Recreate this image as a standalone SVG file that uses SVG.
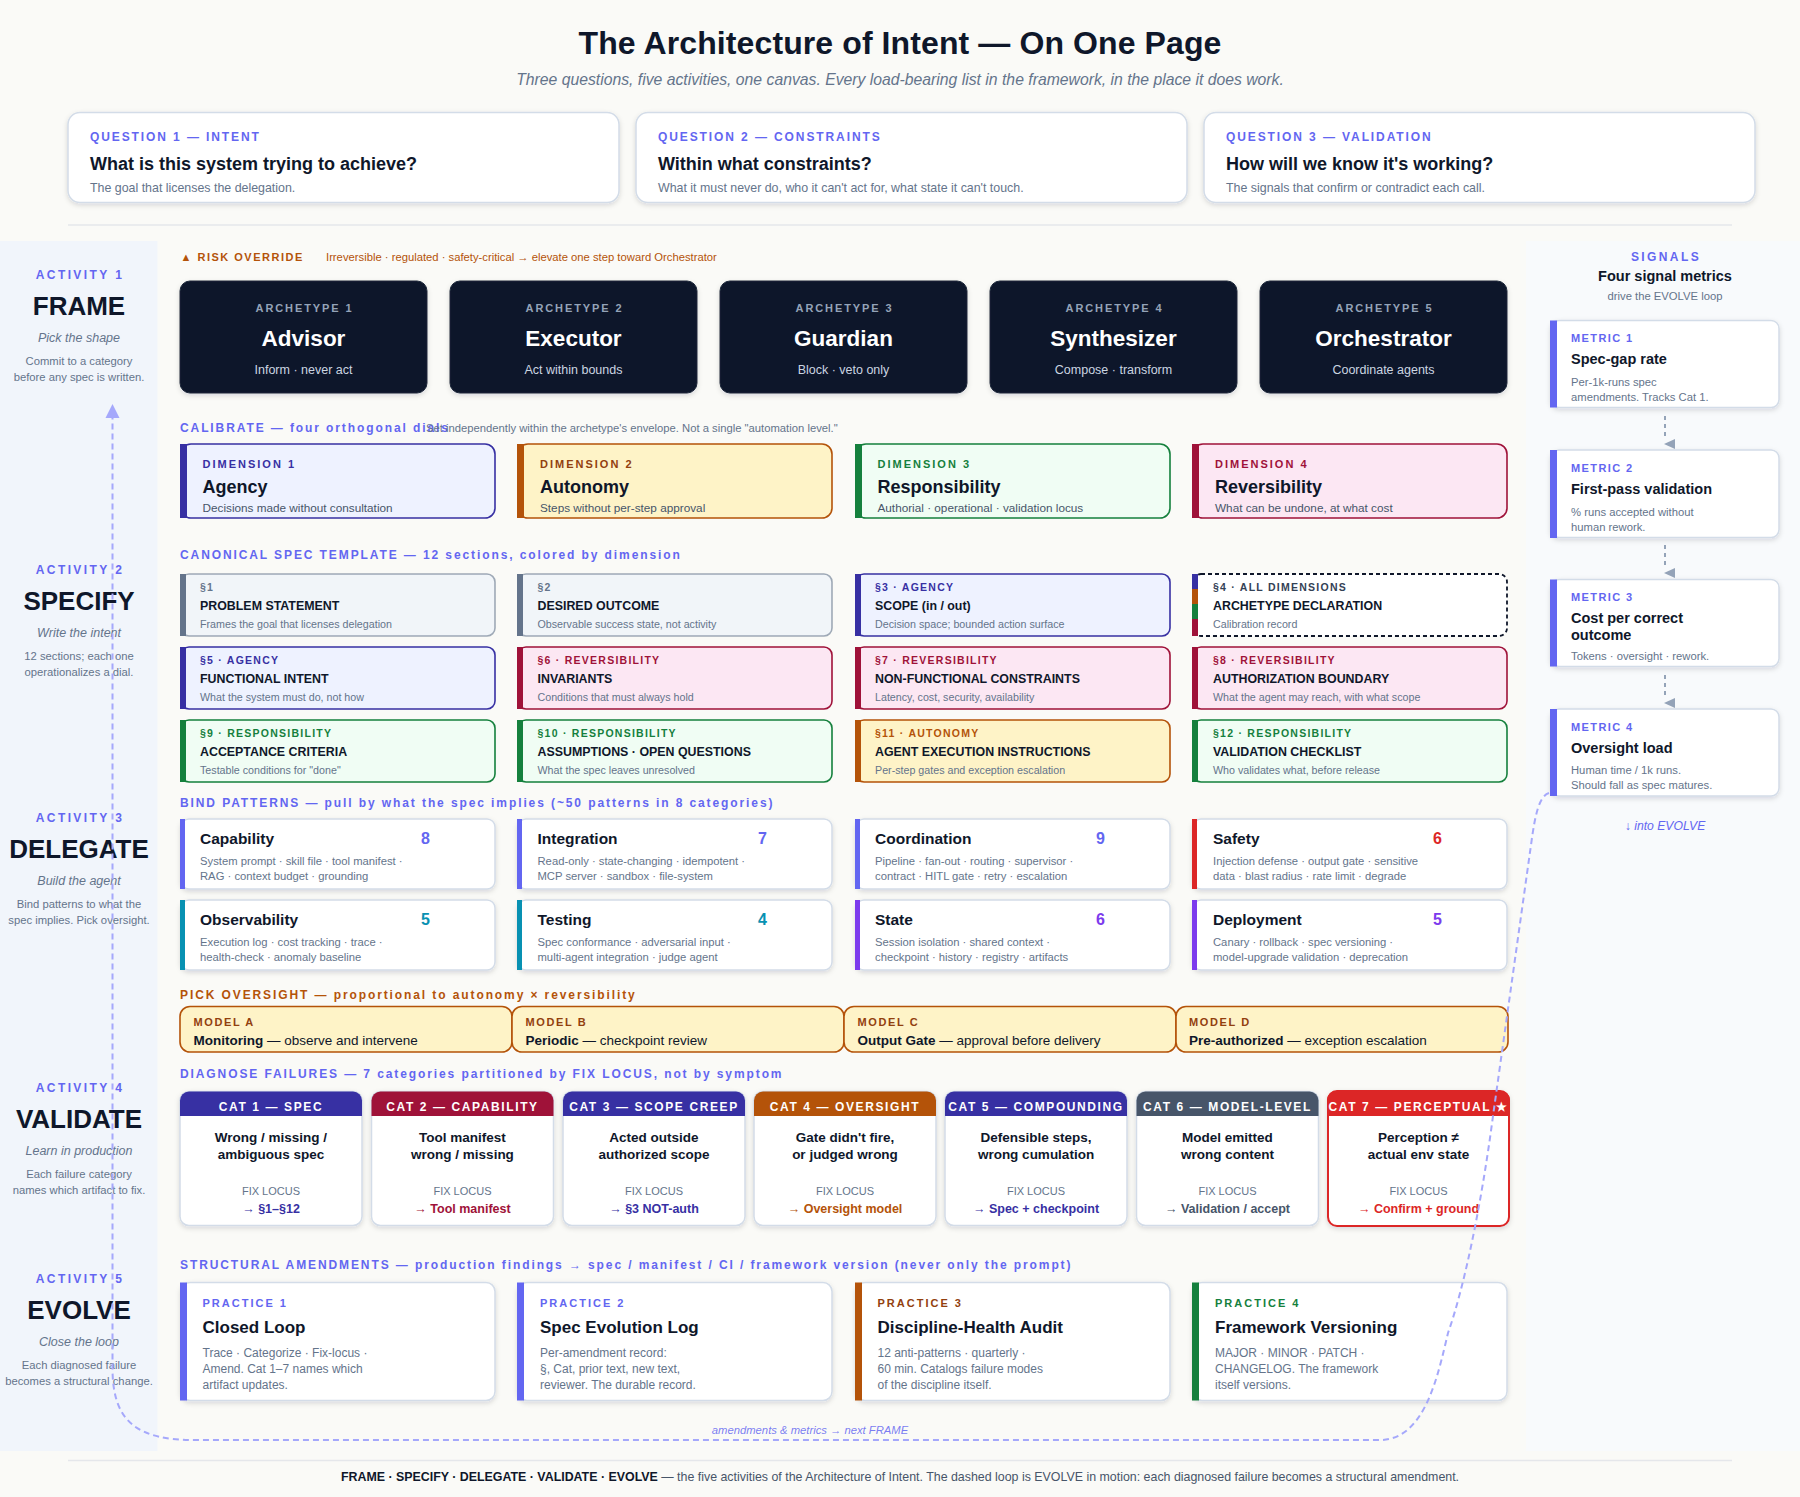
<svg xmlns="http://www.w3.org/2000/svg" width="1800" height="1497" viewBox="0 0 1800 1497">
<defs>
<filter id="sh" x="-10%" y="-15%" width="120%" height="135%"><feDropShadow dx="0" dy="2" stdDeviation="2.5" flood-color="#0f172a" flood-opacity="0.14"/></filter>
</defs>
<style>
text{font-family:"Liberation Sans",Arial,sans-serif}
.c{text-anchor:middle}
.card{fill:#fff;stroke:#d3dce8;stroke-width:1.5;filter:url(#sh)}
.dark{fill:#0f172a;stroke:#1e293b;stroke-width:1;filter:url(#sh)}
.ind{fill:#6366f1}
.ink{fill:#0f172a}
.gray{fill:#64748b}
.ag{fill:#3730a3}.au{fill:#b45309}.re{fill:#15803d}.rv{fill:#9f1239}.sl{fill:#64748b}
.tag{font-size:12px;font-weight:700;letter-spacing:1.9px}
.qh{font-size:18px;font-weight:700;fill:#0f172a}
.qs{font-size:12.4px;fill:#64748b}
.al{font-size:12px;font-weight:700;letter-spacing:2.4px;fill:#6366f1}
.an{font-size:26px;font-weight:700;fill:#0f172a}
.ai{font-size:12.5px;font-style:italic;fill:#64748b}
.ad{font-size:11.25px;fill:#64748b}
.sec{font-size:12px;font-weight:700;letter-spacing:1.9px;fill:#6366f1}
.a1{font-size:11px;font-weight:700;letter-spacing:1.9px;fill:#94a3b8}
.a2{font-size:22.5px;font-weight:700;fill:#fff}
.a3{font-size:12.5px;fill:#cbd5e1}
.dt{font-size:11px;font-weight:700;letter-spacing:2px}
.dh{font-size:18px;font-weight:700;fill:#0f172a}
.dd{font-size:11.75px;fill:#475569}
.st{font-size:10.5px;font-weight:700;letter-spacing:1.25px}
.sh{font-size:12.4px;font-weight:700;fill:#0f172a}
.sd{font-size:10.7px;fill:#64748b}
.bh{font-size:15.5px;font-weight:700;fill:#0f172a}
.bn{font-size:16px;font-weight:700}
.bd{font-size:11.25px;fill:#64748b}
.mt{font-size:11px;font-weight:700;letter-spacing:1.6px;fill:#92400e}
.mb{font-size:13.5px;fill:#0f172a}
.ch{font-size:12px;font-weight:700;letter-spacing:1.6px;fill:#fff}
.cb{font-size:13.5px;font-weight:700;fill:#0f172a}
.cf{font-size:11px;fill:#64748b}
.cv{font-size:12.5px;font-weight:700}
.pt{font-size:11px;font-weight:700;letter-spacing:2px}
.ph{font-size:17px;font-weight:700;fill:#0f172a}
.pd{font-size:12px;fill:#64748b}
.mh{font-size:14.5px;font-weight:700;fill:#0f172a}
.md{font-size:11.25px;fill:#64748b}
.mm{font-size:11px;font-weight:700;letter-spacing:1.4px;fill:#6366f1}
.s0{fill:#f1f5f9;stroke:#64748b}.s1{fill:#eef2ff;stroke:#3730a3}.s2{fill:#fef3c7;stroke:#b45309}.s3{fill:#f0fdf4;stroke:#15803d}.s4{fill:#fce7f3;stroke:#9f1239}
.b{stroke-width:1.6}
</style>
<rect width="1800" height="1497" fill="#fafaf7"/>
<rect x="0" y="241" width="157.500" height="1210" fill="#f1f5fb"/>
<rect x="1526" y="241" width="274" height="1210" fill="#f8fafc"/>
<g id="header">
<text class="c" x="900" y="54" font-size="32" font-weight="700" fill="#0f172a" letter-spacing=".1">The Architecture of Intent — On One Page</text>
<text class="c" x="900" y="85" font-size="15.750" font-style="italic" fill="#64748b">Three questions, five activities, one canvas. Every load-bearing list in the framework, in the place it does work.</text>
</g>
<g id="q1"><rect class="card" x="68" y="112.500" width="551" height="90" rx="12"/><text class="tag ind" x="90" y="141">QUESTION 1 — INTENT</text><text class="qh" x="90" y="170">What is this system trying to achieve?</text><text class="qs" x="90" y="192">The goal that licenses the delegation.</text></g>
<g id="q2"><rect class="card" x="636" y="112.500" width="551" height="90" rx="12"/><text class="tag ind" x="658" y="141">QUESTION 2 — CONSTRAINTS</text><text class="qh" x="658" y="170">Within what constraints?</text><text class="qs" x="658" y="192">What it must never do, who it can't act for, what state it can't touch.</text></g>
<g id="q3"><rect class="card" x="1204" y="112.500" width="551" height="90" rx="12"/><text class="tag ind" x="1226" y="141">QUESTION 3 — VALIDATION</text><text class="qh" x="1226" y="170">How will we know it's working?</text><text class="qs" x="1226" y="192">The signals that confirm or contradict each call.</text></g>
<line x1="68" y1="225" x2="1732" y2="225" stroke="#e5e7eb" stroke-width="1.5"/>

<g id="activity-1"><text class="al c" x="80" y="279">ACTIVITY 1</text><text class="an c" x="79" y="315">FRAME</text><text class="ai c" x="79" y="342">Pick the shape</text><text class="ad c" x="79" y="365">Commit to a category</text><text class="ad c" x="79" y="381">before any spec is written.</text></g>
<g id="activity-2"><text class="al c" x="80" y="574">ACTIVITY 2</text><text class="an c" x="79" y="610">SPECIFY</text><text class="ai c" x="79" y="637">Write the intent</text><text class="ad c" x="79" y="660">12 sections; each one</text><text class="ad c" x="79" y="676">operationalizes a dial.</text></g>
<g id="activity-3"><text class="al c" x="80" y="822">ACTIVITY 3</text><text class="an c" x="79" y="858">DELEGATE</text><text class="ai c" x="79" y="885">Build the agent</text><text class="ad c" x="79" y="908">Bind patterns to what the</text><text class="ad c" x="79" y="924">spec implies. Pick oversight.</text></g>
<g id="activity-4"><text class="al c" x="80" y="1092">ACTIVITY 4</text><text class="an c" x="79" y="1128">VALIDATE</text><text class="ai c" x="79" y="1155">Learn in production</text><text class="ad c" x="79" y="1178">Each failure category</text><text class="ad c" x="79" y="1194">names which artifact to fix.</text></g>
<g id="activity-5"><text class="al c" x="80" y="1283">ACTIVITY 5</text><text class="an c" x="79" y="1319">EVOLVE</text><text class="ai c" x="79" y="1346">Close the loop</text><text class="ad c" x="79" y="1369">Each diagnosed failure</text><text class="ad c" x="79" y="1385">becomes a structural change.</text></g>

<g id="risk"><text x="180.500" y="261" font-size="11" font-weight="700" letter-spacing="1.500" fill="#b45309">▲ RISK OVERRIDE</text><text x="326" y="261" font-size="11.250" fill="#b45309">Irreversible · regulated · safety-critical → elevate one step toward Orchestrator</text></g>

<g id="archetype-1"><rect class="dark" x="180" y="281" width="247" height="112" rx="10"/><text class="a1 c" x="304.500" y="311.500">ARCHETYPE 1</text><text class="a2 c" x="303.500" y="345.500">Advisor</text><text class="a3 c" x="303.500" y="374">Inform · never act</text></g>
<g id="archetype-2"><rect class="dark" x="450" y="281" width="247" height="112" rx="10"/><text class="a1 c" x="574.500" y="311.500">ARCHETYPE 2</text><text class="a2 c" x="573.500" y="345.500">Executor</text><text class="a3 c" x="573.500" y="374">Act within bounds</text></g>
<g id="archetype-3"><rect class="dark" x="720" y="281" width="247" height="112" rx="10"/><text class="a1 c" x="844.500" y="311.500">ARCHETYPE 3</text><text class="a2 c" x="843.500" y="345.500">Guardian</text><text class="a3 c" x="843.500" y="374">Block · veto only</text></g>
<g id="archetype-4"><rect class="dark" x="990" y="281" width="247" height="112" rx="10"/><text class="a1 c" x="1114.500" y="311.500">ARCHETYPE 4</text><text class="a2 c" x="1113.500" y="345.500">Synthesizer</text><text class="a3 c" x="1113.500" y="374">Compose · transform</text></g>
<g id="archetype-5"><rect class="dark" x="1260" y="281" width="247" height="112" rx="10"/><text class="a1 c" x="1384.500" y="311.500">ARCHETYPE 5</text><text class="a2 c" x="1383.500" y="345.500">Orchestrator</text><text class="a3 c" x="1383.500" y="374">Coordinate agents</text></g>

<text class="sec" x="180" y="432">CALIBRATE — four orthogonal dials</text>
<text x="426" y="432" font-size="11.250" fill="#64748b">Set independently within the archetype's envelope. Not a single "automation level."</text>

<g id="dim-1"><rect class="s1 b" x="181" y="444" width="314" height="74" rx="10"/><rect class="ag" x="180" y="444" width="7" height="74"/><text class="dt ag" x="202.500" y="468">DIMENSION 1</text><text class="dh" x="202.500" y="493">Agency</text><text class="dd" x="202.500" y="512">Decisions made without consultation</text></g>
<g id="dim-2"><rect class="s2 b" x="518" y="444" width="314" height="74" rx="10"/><rect class="au" x="517" y="444" width="7" height="74"/><text class="dt" fill="#92400e" x="540" y="468">DIMENSION 2</text><text class="dh" x="540" y="493">Autonomy</text><text class="dd" x="540" y="512">Steps without per-step approval</text></g>
<g id="dim-3"><rect class="s3 b" x="856" y="444" width="314" height="74" rx="10"/><rect class="re" x="855" y="444" width="7" height="74"/><text class="dt re" x="877.500" y="468">DIMENSION 3</text><text class="dh" x="877.500" y="493">Responsibility</text><text class="dd" x="877.500" y="512">Authorial · operational · validation locus</text></g>
<g id="dim-4"><rect class="s4 b" x="1193" y="444" width="314" height="74" rx="10"/><rect class="rv" x="1192" y="444" width="7" height="74"/><text class="dt rv" x="1215" y="468">DIMENSION 4</text><text class="dh" x="1215" y="493">Reversibility</text><text class="dd" x="1215" y="512">What can be undone, at what cost</text></g>

<text class="sec" x="180" y="559">CANONICAL SPEC TEMPLATE — 12 sections, colored by dimension</text>

<g id="s1"><rect class="s0 b" x="181" y="574" width="314" height="62" rx="8" stroke-opacity=".6"/><rect class="sl" x="180" y="574" width="6" height="62"/><text class="st sl" x="200" y="591">§1</text><text class="sh" x="200" y="610">PROBLEM STATEMENT</text><text class="sd" x="200" y="628">Frames the goal that licenses delegation</text></g>
<g id="s2"><rect class="s0 b" x="518" y="574" width="314" height="62" rx="8" stroke-opacity=".6"/><rect class="sl" x="517" y="574" width="6" height="62"/><text class="st sl" x="537.500" y="591">§2</text><text class="sh" x="537.500" y="610">DESIRED OUTCOME</text><text class="sd" x="537.500" y="628">Observable success state, not activity</text></g>
<g id="s3"><rect class="s1 b" x="856" y="574" width="314" height="62" rx="8"/><rect class="ag" x="855" y="574" width="6" height="62"/><text class="st ag" x="875" y="591">§3 · AGENCY</text><text class="sh" x="875" y="610">SCOPE (in / out)</text><text class="sd" x="875" y="628">Decision space; bounded action surface</text></g>
<g id="s4"><rect x="1193" y="574" width="314" height="62" rx="8" fill="#fff" stroke="#0f172a" stroke-width="1.800" stroke-dasharray="4 3"/><rect class="ag" x="1192" y="574" width="6" height="15"/><rect class="au" x="1192" y="589" width="6" height="15"/><rect class="re" x="1192" y="604" width="6" height="15"/><rect class="rv" x="1192" y="619" width="6" height="17"/><text class="st" fill="#334155" x="1213" y="591">§4 · ALL DIMENSIONS</text><text class="sh" x="1213" y="610">ARCHETYPE DECLARATION</text><text class="sd" x="1213" y="628">Calibration record</text></g>
<g id="s5"><rect class="s1 b" x="181" y="647" width="314" height="62" rx="8"/><rect class="ag" x="180" y="647" width="6" height="62"/><text class="st ag" x="200" y="664">§5 · AGENCY</text><text class="sh" x="200" y="683">FUNCTIONAL INTENT</text><text class="sd" x="200" y="701">What the system must do, not how</text></g>
<g id="s6"><rect class="s4 b" x="518" y="647" width="314" height="62" rx="8"/><rect class="rv" x="517" y="647" width="6" height="62"/><text class="st rv" x="537.500" y="664">§6 · REVERSIBILITY</text><text class="sh" x="537.500" y="683">INVARIANTS</text><text class="sd" x="537.500" y="701">Conditions that must always hold</text></g>
<g id="s7"><rect class="s4 b" x="856" y="647" width="314" height="62" rx="8"/><rect class="rv" x="855" y="647" width="6" height="62"/><text class="st rv" x="875" y="664">§7 · REVERSIBILITY</text><text class="sh" x="875" y="683">NON-FUNCTIONAL CONSTRAINTS</text><text class="sd" x="875" y="701">Latency, cost, security, availability</text></g>
<g id="s8"><rect class="s4 b" x="1193" y="647" width="314" height="62" rx="8"/><rect class="rv" x="1192" y="647" width="6" height="62"/><text class="st rv" x="1213" y="664">§8 · REVERSIBILITY</text><text class="sh" x="1213" y="683">AUTHORIZATION BOUNDARY</text><text class="sd" x="1213" y="701">What the agent may reach, with what scope</text></g>
<g id="s9"><rect class="s3 b" x="181" y="720" width="314" height="62" rx="8"/><rect class="re" x="180" y="720" width="6" height="62"/><text class="st re" x="200" y="737">§9 · RESPONSIBILITY</text><text class="sh" x="200" y="756">ACCEPTANCE CRITERIA</text><text class="sd" x="200" y="774">Testable conditions for "done"</text></g>
<g id="s10"><rect class="s3 b" x="518" y="720" width="314" height="62" rx="8"/><rect class="re" x="517" y="720" width="6" height="62"/><text class="st re" x="537.500" y="737">§10 · RESPONSIBILITY</text><text class="sh" x="537.500" y="756">ASSUMPTIONS · OPEN QUESTIONS</text><text class="sd" x="537.500" y="774">What the spec leaves unresolved</text></g>
<g id="s11"><rect class="s2 b" x="856" y="720" width="314" height="62" rx="8"/><rect class="au" x="855" y="720" width="6" height="62"/><text class="st au" x="875" y="737">§11 · AUTONOMY</text><text class="sh" x="875" y="756">AGENT EXECUTION INSTRUCTIONS</text><text class="sd" x="875" y="774">Per-step gates and exception escalation</text></g>
<g id="s12"><rect class="s3 b" x="1193" y="720" width="314" height="62" rx="8"/><rect class="re" x="1192" y="720" width="6" height="62"/><text class="st re" x="1213" y="737">§12 · RESPONSIBILITY</text><text class="sh" x="1213" y="756">VALIDATION CHECKLIST</text><text class="sd" x="1213" y="774">Who validates what, before release</text></g>

<text class="sec" x="180" y="807">BIND PATTERNS — pull by what the spec implies (~50 patterns in 8 categories)</text>

<g id="bind-1"><rect class="card" x="181" y="819" width="314" height="70" rx="8"/><rect x="180" y="819" width="5" height="70" fill="#6366f1"/><text class="bh" x="200" y="844">Capability</text><text class="bn" fill="#6366f1" x="421" y="844">8</text><text class="bd" x="200" y="865">System prompt · skill file · tool manifest ·</text><text class="bd" x="200" y="880">RAG · context budget · grounding</text></g>
<g id="bind-2"><rect class="card" x="518" y="819" width="314" height="70" rx="8"/><rect x="517" y="819" width="5" height="70" fill="#6366f1"/><text class="bh" x="537.500" y="844">Integration</text><text class="bn" fill="#6366f1" x="758" y="844">7</text><text class="bd" x="537.500" y="865">Read-only · state-changing · idempotent ·</text><text class="bd" x="537.500" y="880">MCP server · sandbox · file-system</text></g>
<g id="bind-3"><rect class="card" x="856" y="819" width="314" height="70" rx="8"/><rect x="855" y="819" width="5" height="70" fill="#6366f1"/><text class="bh" x="875" y="844">Coordination</text><text class="bn" fill="#6366f1" x="1096" y="844">9</text><text class="bd" x="875" y="865">Pipeline · fan-out · routing · supervisor ·</text><text class="bd" x="875" y="880">contract · HITL gate · retry · escalation</text></g>
<g id="bind-4"><rect class="card" x="1193" y="819" width="314" height="70" rx="8"/><rect x="1192" y="819" width="5" height="70" fill="#dc2626"/><text class="bh" x="1213" y="844">Safety</text><text class="bn" fill="#dc2626" x="1433" y="844">6</text><text class="bd" x="1213" y="865">Injection defense · output gate · sensitive</text><text class="bd" x="1213" y="880">data · blast radius · rate limit · degrade</text></g>
<g id="bind-5"><rect class="card" x="181" y="900" width="314" height="70" rx="8"/><rect x="180" y="900" width="5" height="70" fill="#0891b2"/><text class="bh" x="200" y="925">Observability</text><text class="bn" fill="#0891b2" x="421" y="925">5</text><text class="bd" x="200" y="946">Execution log · cost tracking · trace ·</text><text class="bd" x="200" y="961">health-check · anomaly baseline</text></g>
<g id="bind-6"><rect class="card" x="518" y="900" width="314" height="70" rx="8"/><rect x="517" y="900" width="5" height="70" fill="#0891b2"/><text class="bh" x="537.500" y="925">Testing</text><text class="bn" fill="#0891b2" x="758" y="925">4</text><text class="bd" x="537.500" y="946">Spec conformance · adversarial input ·</text><text class="bd" x="537.500" y="961">multi-agent integration · judge agent</text></g>
<g id="bind-7"><rect class="card" x="856" y="900" width="314" height="70" rx="8"/><rect x="855" y="900" width="5" height="70" fill="#7c3aed"/><text class="bh" x="875" y="925">State</text><text class="bn" fill="#7c3aed" x="1096" y="925">6</text><text class="bd" x="875" y="946">Session isolation · shared context ·</text><text class="bd" x="875" y="961">checkpoint · history · registry · artifacts</text></g>
<g id="bind-8"><rect class="card" x="1193" y="900" width="314" height="70" rx="8"/><rect x="1192" y="900" width="5" height="70" fill="#7c3aed"/><text class="bh" x="1213" y="925">Deployment</text><text class="bn" fill="#7c3aed" x="1433" y="925">5</text><text class="bd" x="1213" y="946">Canary · rollback · spec versioning ·</text><text class="bd" x="1213" y="961">model-upgrade validation · deprecation</text></g>

<text class="sec" style="fill:#b45309" x="180" y="999">PICK OVERSIGHT — proportional to autonomy × reversibility</text>
<g id="model-a"><rect class="s2 b" x="180" y="1006.500" width="332" height="45.500" rx="10"/><text class="mt" x="193.500" y="1026">MODEL A</text><text class="mb" x="193.500" y="1045"><tspan font-weight="700">Monitoring</tspan> — observe and intervene</text></g>
<g id="model-b"><rect class="s2 b" x="512" y="1006.500" width="332" height="45.500" rx="10"/><text class="mt" x="525.500" y="1026">MODEL B</text><text class="mb" x="525.500" y="1045"><tspan font-weight="700">Periodic</tspan> — checkpoint review</text></g>
<g id="model-c"><rect class="s2 b" x="844" y="1006.500" width="332" height="45.500" rx="10"/><text class="mt" x="857.500" y="1026">MODEL C</text><text class="mb" x="857.500" y="1045"><tspan font-weight="700">Output Gate</tspan> — approval before delivery</text></g>
<g id="model-d"><rect class="s2 b" x="1176" y="1006.500" width="332" height="45.500" rx="10"/><text class="mt" x="1189" y="1026">MODEL D</text><text class="mb" x="1189" y="1045"><tspan font-weight="700">Pre-authorized</tspan> — exception escalation</text></g>

<text class="sec" x="180" y="1078">DIAGNOSE FAILURES — 7 categories partitioned by FIX LOCUS, not by symptom</text>

<g id="cat-1"><rect class="card" x="180" y="1091.500" width="182" height="134" rx="9"/><path d="M180 1116V1100.500a9 9 0 0 1 9-9H353a9 9 0 0 1 9 9V1116Z" fill="#3730a3"/><text class="ch c" x="271" y="1111">CAT 1 — SPEC</text><text class="cb c" x="271" y="1142">Wrong / missing /</text><text class="cb c" x="271" y="1159">ambiguous spec</text><text class="cf c" x="271" y="1195">FIX LOCUS</text><text class="cv c" fill="#3730a3" x="271" y="1213"><tspan font-weight="400">→ </tspan>§1–§12</text></g>
<g id="cat-2"><rect class="card" x="371.500" y="1091.500" width="182" height="134" rx="9"/><path d="M371.500 1116V1100.500a9 9 0 0 1 9-9H544.500a9 9 0 0 1 9 9V1116Z" fill="#9f1239"/><text class="ch c" x="462.500" y="1111">CAT 2 — CAPABILITY</text><text class="cb c" x="462.500" y="1142">Tool manifest</text><text class="cb c" x="462.500" y="1159">wrong / missing</text><text class="cf c" x="462.500" y="1195">FIX LOCUS</text><text class="cv c" fill="#9f1239" x="462.500" y="1213"><tspan font-weight="400">→ </tspan>Tool manifest</text></g>
<g id="cat-3"><rect class="card" x="563" y="1091.500" width="182" height="134" rx="9"/><path d="M563 1116V1100.500a9 9 0 0 1 9-9H736a9 9 0 0 1 9 9V1116Z" fill="#3730a3"/><text class="ch c" x="654" y="1111">CAT 3 — SCOPE CREEP</text><text class="cb c" x="654" y="1142">Acted outside</text><text class="cb c" x="654" y="1159">authorized scope</text><text class="cf c" x="654" y="1195">FIX LOCUS</text><text class="cv c" fill="#3730a3" x="654" y="1213"><tspan font-weight="400">→ </tspan>§3 NOT-auth</text></g>
<g id="cat-4"><rect class="card" x="754" y="1091.500" width="182" height="134" rx="9"/><path d="M754 1116V1100.500a9 9 0 0 1 9-9H927a9 9 0 0 1 9 9V1116Z" fill="#b45309"/><text class="ch c" x="845" y="1111">CAT 4 — OVERSIGHT</text><text class="cb c" x="845" y="1142">Gate didn't fire,</text><text class="cb c" x="845" y="1159">or judged wrong</text><text class="cf c" x="845" y="1195">FIX LOCUS</text><text class="cv c" fill="#b45309" x="845" y="1213"><tspan font-weight="400">→ </tspan>Oversight model</text></g>
<g id="cat-5"><rect class="card" x="945" y="1091.500" width="182" height="134" rx="9"/><path d="M945 1116V1100.500a9 9 0 0 1 9-9H1118a9 9 0 0 1 9 9V1116Z" fill="#3730a3"/><text class="ch c" x="1036" y="1111">CAT 5 — COMPOUNDING</text><text class="cb c" x="1036" y="1142">Defensible steps,</text><text class="cb c" x="1036" y="1159">wrong cumulation</text><text class="cf c" x="1036" y="1195">FIX LOCUS</text><text class="cv c" fill="#3730a3" x="1036" y="1213"><tspan font-weight="400">→ </tspan>Spec + checkpoint</text></g>
<g id="cat-6"><rect class="card" x="1136.500" y="1091.500" width="182" height="134" rx="9"/><path d="M1136.500 1116V1100.500a9 9 0 0 1 9-9H1309.500a9 9 0 0 1 9 9V1116Z" fill="#475569"/><text class="ch c" x="1227.500" y="1111">CAT 6 — MODEL-LEVEL</text><text class="cb c" x="1227.500" y="1142">Model emitted</text><text class="cb c" x="1227.500" y="1159">wrong content</text><text class="cf c" x="1227.500" y="1195">FIX LOCUS</text><text class="cv c" fill="#475569" x="1227.500" y="1213"><tspan font-weight="400">→ </tspan>Validation / accept</text></g>
<g id="cat-7"><rect x="1328" y="1091" width="181" height="135" rx="9" fill="#fff" stroke="#dc2626" stroke-width="2" filter="url(#sh)"/><path d="M1327 1116V1100a9 9 0 0 1 9-9H1501a9 9 0 0 1 9 9V1116Z" fill="#dc2626"/><text class="ch c" x="1418.500" y="1111">CAT 7 — PERCEPTUAL ★</text><text class="cb c" x="1418.500" y="1142">Perception ≠</text><text class="cb c" x="1418.500" y="1159">actual env state</text><text class="cf c" x="1418.500" y="1195">FIX LOCUS</text><text class="cv c" fill="#dc2626" x="1418.500" y="1213"><tspan font-weight="400">→ </tspan>Confirm + ground</text></g>

<text class="sec" x="180" y="1269">STRUCTURAL AMENDMENTS — production findings → spec / manifest / CI / framework version (never only the prompt)</text>

<g id="practice-1"><rect class="card" x="181" y="1282.500" width="314" height="118" rx="9"/><rect x="180" y="1282.500" width="7" height="118" fill="#6366f1"/><text class="pt ind" x="202.500" y="1307">PRACTICE 1</text><text class="ph" x="202.500" y="1333">Closed Loop</text><text class="pd" x="202.500" y="1357">Trace · Categorize · Fix-locus ·</text><text class="pd" x="202.500" y="1373">Amend. Cat 1–7 names which</text><text class="pd" x="202.500" y="1389">artifact updates.</text></g>
<g id="practice-2"><rect class="card" x="518" y="1282.500" width="314" height="118" rx="9"/><rect x="517" y="1282.500" width="7" height="118" fill="#6366f1"/><text class="pt ind" x="540" y="1307">PRACTICE 2</text><text class="ph" x="540" y="1333">Spec Evolution Log</text><text class="pd" x="540" y="1357">Per-amendment record:</text><text class="pd" x="540" y="1373">§, Cat, prior text, new text,</text><text class="pd" x="540" y="1389">reviewer. The durable record.</text></g>
<g id="practice-3"><rect class="card" x="856" y="1282.500" width="314" height="118" rx="9"/><rect x="855" y="1282.500" width="7" height="118" fill="#b45309"/><text class="pt" fill="#92400e" x="877.500" y="1307">PRACTICE 3</text><text class="ph" x="877.500" y="1333">Discipline-Health Audit</text><text class="pd" x="877.500" y="1357">12 anti-patterns · quarterly ·</text><text class="pd" x="877.500" y="1373">60 min. Catalogs failure modes</text><text class="pd" x="877.500" y="1389">of the discipline itself.</text></g>
<g id="practice-4"><rect class="card" x="1193" y="1282.500" width="314" height="118" rx="9"/><rect x="1192" y="1282.500" width="7" height="118" fill="#15803d"/><text class="pt re" x="1215" y="1307">PRACTICE 4</text><text class="ph" x="1215" y="1333">Framework Versioning</text><text class="pd" x="1215" y="1357">MAJOR · MINOR · PATCH ·</text><text class="pd" x="1215" y="1373">CHANGELOG. The framework</text><text class="pd" x="1215" y="1389">itself versions.</text></g>

<g id="signals"><text class="al c" x="1666" y="261">SIGNALS</text><text class="c" x="1665" y="281" font-size="14.500" font-weight="700" fill="#0f172a">Four signal metrics</text><text class="c" x="1665" y="299.500" font-size="11.250" fill="#64748b">drive the EVOLVE loop</text></g>
<g id="metric-1"><rect class="card" x="1551" y="320.500" width="228" height="87" rx="8"/><rect x="1550" y="320.500" width="7" height="87" fill="#6366f1"/><text class="mm" x="1571" y="342">METRIC 1</text><text class="mh" x="1571" y="364">Spec-gap rate</text><text class="md" x="1571" y="386">Per-1k-runs spec</text><text class="md" x="1571" y="401">amendments. Tracks Cat 1.</text></g>
<g id="metric-2"><rect class="card" x="1551" y="450" width="228" height="87.500" rx="8"/><rect x="1550" y="450" width="7" height="88" fill="#6366f1"/><text class="mm" x="1571" y="472">METRIC 2</text><text class="mh" x="1571" y="494">First-pass validation</text><text class="md" x="1571" y="516">% runs accepted without</text><text class="md" x="1571" y="531">human rework.</text></g>
<g id="metric-3"><rect class="card" x="1551" y="579.500" width="228" height="87" rx="8"/><rect x="1550" y="579.500" width="7" height="87" fill="#6366f1"/><text class="mm" x="1571" y="601">METRIC 3</text><text class="mh" x="1571" y="623">Cost per correct</text><text class="mh" x="1571" y="640">outcome</text><text class="md" x="1571" y="660">Tokens · oversight · rework.</text></g>
<g id="metric-4"><rect class="card" x="1551" y="709" width="228" height="87" rx="8"/><rect x="1550" y="709" width="7" height="87" fill="#6366f1"/><text class="mm" x="1571" y="731">METRIC 4</text><text class="mh" x="1571" y="753">Oversight load</text><text class="md" x="1571" y="774">Human time / 1k runs.</text><text class="md" x="1571" y="789">Should fall as spec matures.</text></g>
<text class="c" x="1665" y="830" font-size="12.200" font-style="italic" fill="#6366f1">↓ into EVOLVE</text>

<text class="c" x="810" y="1434" font-size="11.250" font-style="italic" fill="#6366f1" fill-opacity=".85">amendments &amp; metrics → next FRAME</text>
<line x1="68" y1="1460.500" x2="1732" y2="1460.500" stroke="#e5e7eb" stroke-width="1.500"/>
<text class="c" x="900" y="1481" font-size="12.400" fill="#475569"><tspan font-weight="700" fill="#0f172a">FRAME · SPECIFY · DELEGATE · VALIDATE · EVOLVE</tspan> — the five activities of the Architecture of Intent. The dashed loop is EVOLVE in motion: each diagnosed failure becomes a structural amendment.</text>

<g id="connectors" fill="none">
<g stroke="#94a3b8" stroke-width="2" stroke-dasharray="4 4"><path d="M1665 416V439"/><path d="M1665 545V568"/><path d="M1665 675V698"/></g>
<path d="M1675 439V449L1664 444Z" fill="#94a3b8"/><path d="M1675 568V578L1664 573Z" fill="#94a3b8"/><path d="M1675 698V708L1664 703Z" fill="#94a3b8"/>
<path d="M1549 793C1539 796 1535 815 1531 845L1493 1116C1482 1200 1465 1285 1448 1333C1438 1375 1425 1440 1380 1440L195 1440C137 1440 112.500 1422 112.500 1368L112.500 418" stroke="#a5a8fb" stroke-width="2" stroke-dasharray="6 4"/>
<path d="M105.500 418L112.500 404L119.500 418Z" fill="#a5a8fb"/>
</g>
</svg>
